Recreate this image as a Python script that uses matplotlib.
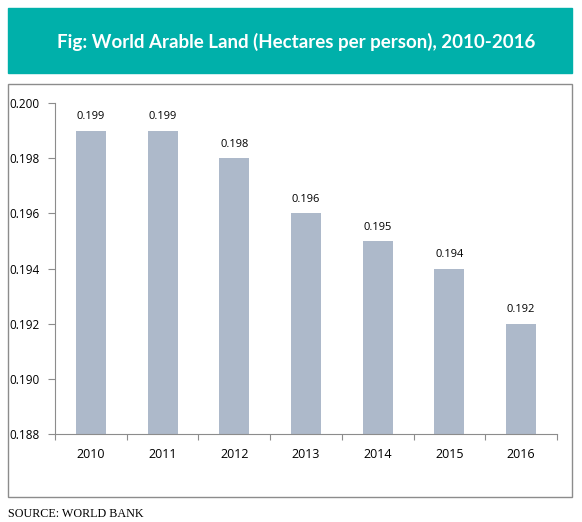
import matplotlib.pyplot as plt
from matplotlib.patches import Rectangle

W, H = 582, 522

years = ["2010", "2011", "2012", "2013", "2014", "2015", "2016"]
hectares = [0.199, 0.199, 0.198, 0.196, 0.195, 0.194, 0.192]
y_ticks = [0.188, 0.190, 0.192, 0.194, 0.196, 0.198, 0.200]

TEAL = "#00B0AA"
BAR = "#ADB9CA"

fig = plt.figure(figsize=(W / 100, H / 100), dpi=100)

# header bar + chart frame, in pixel coords via figure fraction
def fx(px):
    return px / W

def fy(py):
    return 1 - py / H

fig.patches.append(Rectangle((fx(8), fy(73)), fx(572) - fx(8), fy(8) - fy(73),
                             transform=fig.transFigure, color=TEAL, zorder=-5))
fig.patches.append(Rectangle((fx(8), fy(497)), fx(572) - fx(8), fy(84) - fy(497),
                             transform=fig.transFigure, facecolor="white",
                             edgecolor="#8C8C8C", linewidth=1, zorder=-5))
fig.text(fx(296), fy(42), "Fig: World Arable Land (Hectares per person), 2010-2016",
         ha="center", va="center", color="white", fontsize=13.5, fontweight="bold",
         family="Lato")
fig.text(fx(8), fy(514), "SOURCE: WORLD BANK", ha="left", va="center",
         fontsize=8.7, family="Liberation Serif")

ax = fig.add_axes([fx(55), fy(434), fx(557) - fx(55), fy(103) - fy(434)])
ax.set_zorder(5)
x = range(len(years))
ax.bar(x, hectares, width=0.42, color=BAR, zorder=2)
for i, v in enumerate(hectares):
    ax.annotate(f"{v:.3f}", (i, v), xytext=(0, 6), textcoords="offset points",
                ha="center", va="bottom", fontsize=8, family="Open Sans")

ax.set_ylim(0.188, 0.200)
ax.set_yticks(y_ticks)
ax.set_yticklabels([f"{t:.3f}" for t in y_ticks], family="Open Sans", fontsize=8.5)
ax.set_xlim(-0.5, len(years) - 0.5)
ax.set_xticks([i - 0.5 for i in range(len(years) + 1)])
ax.set_xticklabels([])
ax.set_xticks(list(x), minor=True)
ax.set_xticklabels(years, minor=True, family="Open Sans", fontsize=9)
ax.tick_params(axis="x", which="minor", length=0, pad=10)
ax.tick_params(axis="x", which="major", length=4, color="#8C8C8C")
ax.tick_params(axis="y", length=5, color="#8C8C8C", pad=6)
ax.spines[["top", "right"]].set_visible(False)
ax.spines[["left", "bottom"]].set_color("#8C8C8C")
ax.patch.set_alpha(0)

fig.savefig("out.png", dpi=100)
